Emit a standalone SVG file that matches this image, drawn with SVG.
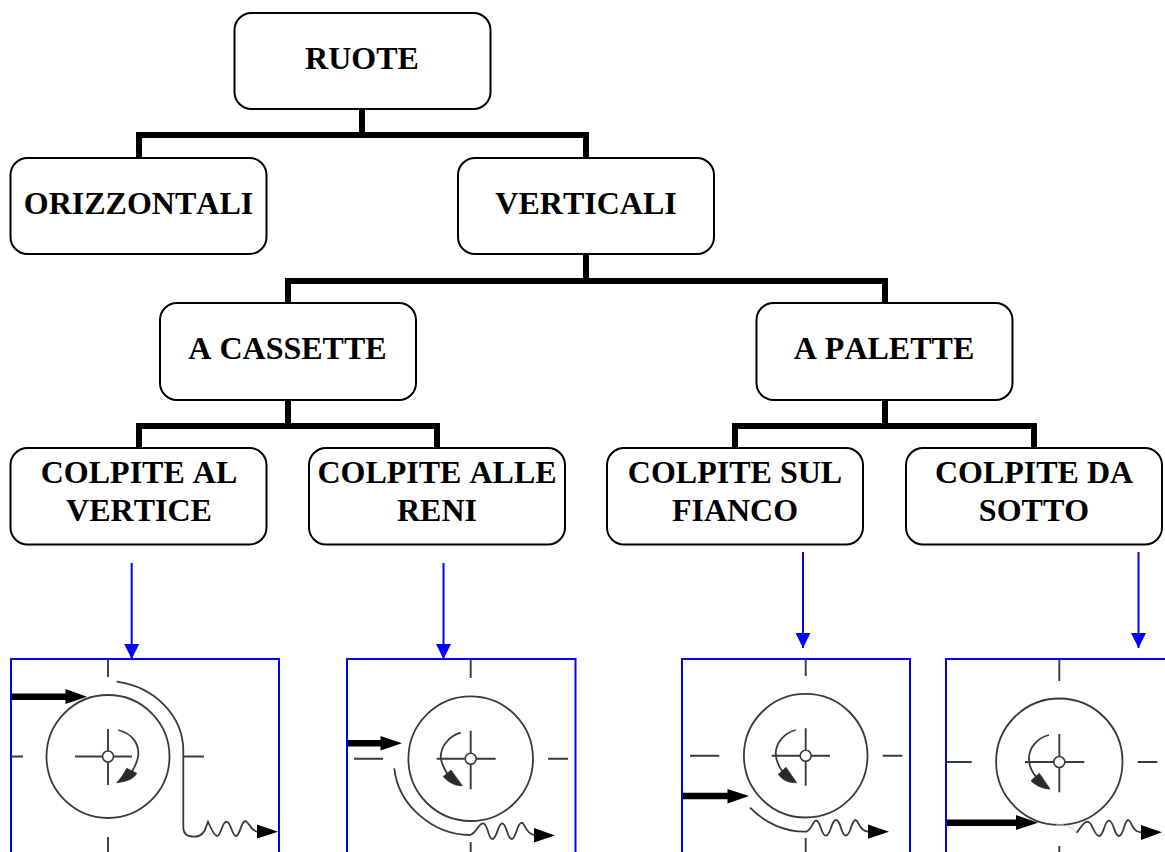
<svg xmlns="http://www.w3.org/2000/svg" width="1165" height="852" viewBox="0 0 1165 852">
<style>
.box{fill:#fff;stroke:#000;stroke-width:2}
.t{font-family:"Liberation Serif","Times New Roman",serif;font-weight:700;font-size:32px;font-kerning:none;text-anchor:middle;fill:#000}
.conn{fill:none;stroke:#000;stroke-width:6}
.blue{fill:none;stroke:#00f;stroke-width:2}
.frame{fill:none;stroke:#00f;stroke-width:2}
.thin{fill:none;stroke:#3a3a3a;stroke-width:1.8}
.tick{fill:none;stroke:#3a3a3a;stroke-width:1.9}
.hub{fill:#fff;stroke:#3a3a3a;stroke-width:1.6}
.thick{fill:none;stroke:#000;stroke-width:6.500}
.blk{fill:#000}
.dark{fill:#2a2a2a;stroke:#333;stroke-width:.8}
</style>
<defs>
<marker id="blueHead" markerUnits="userSpaceOnUse" markerWidth="16" markerHeight="16" refX="15" refY="8" orient="auto"><path d="M0 .5L15 8L0 15.500z" fill="#00f"/></marker>
</defs>
<rect width="1165" height="852" fill="#fff"/>
<g id="connectors">
<path class="conn" d="M362 109V135M139 158V135H586V158"/>
<path class="conn" d="M586 254V281M288 303V281H885V303"/>
<path class="conn" d="M288 400V426M139 448V426H437V448"/>
<path class="conn" d="M885 400V426M735 448V426H1034V448"/>
<path class="blue" marker-end="url(#blueHead)" d="M131.700 563V659"/>
<path class="blue" marker-end="url(#blueHead)" d="M443.500 563V659"/>
<path class="blue" marker-end="url(#blueHead)" d="M803 552V648"/>
<path class="blue" marker-end="url(#blueHead)" d="M1138.500 552V648"/>
</g>
<g id="node-ruote"><rect class="box" x="234.500" y="13" width="256" height="96" rx="17"/><text class="t" x="362" y="69">RUOTE</text></g>
<g id="node-orizzontali"><rect class="box" x="10.500" y="158" width="256" height="96" rx="17"/><text class="t" x="138.500" y="214">ORIZZONTALI</text></g>
<g id="node-verticali"><rect class="box" x="458" y="158" width="256" height="96" rx="17"/><text class="t" x="586" y="214">VERTICALI</text></g>
<g id="node-cassette"><rect class="box" x="160" y="303" width="256" height="97" rx="17"/><text class="t" x="287.500" y="359">A CASSETTE</text></g>
<g id="node-palette"><rect class="box" x="756.500" y="303" width="256" height="97" rx="17"/><text class="t" x="884" y="359">A PALETTE</text></g>
<g id="node-vertice"><rect class="box" x="10.500" y="448" width="256" height="96.500" rx="17"/><text class="t" x="139" y="483">COLPITE AL</text><text class="t" x="139" y="521">VERTICE</text></g>
<g id="node-reni"><rect class="box" x="309" y="448" width="256" height="96.500" rx="17"/><text class="t" x="437" y="483">COLPITE ALLE</text><text class="t" x="437" y="521">RENI</text></g>
<g id="node-fianco"><rect class="box" x="607" y="448" width="256" height="96.500" rx="17"/><text class="t" x="735" y="483">COLPITE SUL</text><text class="t" x="735" y="521">FIANCO</text></g>
<g id="node-sotto"><rect class="box" x="906" y="448" width="256" height="96.500" rx="17"/><text class="t" x="1034" y="483">COLPITE DA</text><text class="t" x="1034" y="521">SOTTO</text></g>
<g id="panel-1">
<path class="tick" d="M108 660V677M108 837V852M11 756.500H23M183 756.500H204M75 756.500H132M108 729V785"/>
<circle class="thin" cx="108" cy="756.500" r="61.500"/><circle class="hub" cx="108" cy="756.500" r="5.500"/>
<path class="thin" d="M118.300 730C133 734 139 744 138.300 755C137.500 763 134 768 131.700 772"/>
<path class="dark" d="M126.700 768.300L136.700 773.300C134 778 130 781 116.700 782.700C121 778 124 774 126.700 768.300z"/>
<path class="thin" d="M116.700 681.700C155 687 183 716 183.300 750V828C183.500 834 188 836.700 194 836.700C201 836.700 205 832 206 827L208 821.700C210 826 214 836 217 836C221 836 222 822 226.500 821.700C231 822 232 836 236 836C240 836 241 821 245.500 821C249 822 250 830 257 831.700"/>
<path class="thick" d="M11 696.700H67"/><path class="blk" d="M65.500 689L87 696.700L65.500 704z"/>
<path class="blk" d="M257 824.500L278 831.700L257 838.500z"/>
<rect class="frame" x="11" y="659" width="268" height="210"/>
</g>
<g id="panel-2">
<path class="tick" d="M470.700 660V678M470.700 842V852M354 758.700H383M548 758.700H568M436.700 758.700H495.700M470.700 730.700V789.300"/>
<circle class="thin" cx="470.700" cy="758.700" r="62.300"/><circle class="hub" cx="470.700" cy="758.700" r="5.500"/>
<path class="thin" d="M460.700 732.700C449 736 441 746 440.700 757C441 764 445 770 448 775"/>
<path class="dark" d="M451 770L462.300 785.700C456 786 449 783 443.300 776.700z"/>
<path class="thin" d="M394.300 768.300C398 805 433 835 470 835C477 833 478 823.300 483.300 823.300C488 824 488 839 492.300 839C497 839 498 823 502.300 823.300C507 824 507 839 511.700 839C516 839 517 823 521.700 822.700C525 823 525 833 534 835"/>
<path class="thick" d="M347 743.300H382"/><path class="blk" d="M380.500 736L402 743.300L380.500 750.500z"/>
<path class="blk" d="M534 828L555 835.500L534 842.500z"/>
<rect class="frame" x="347" y="659" width="228.500" height="210"/>
</g>
<g id="panel-3">
<path class="tick" d="M805.700 660V676M805.700 838V852M690 755.700H719.300M882.700 755.700H902.300M771.700 755.700H830M805.700 728.300V785.700"/>
<circle class="thin" cx="805.700" cy="755.700" r="61.800"/><circle class="hub" cx="805.700" cy="755.700" r="5.500"/>
<path class="thin" d="M795.700 730C784 733 776 743 775.700 753.300C776 761 779 767 782.700 771.700"/>
<path class="dark" d="M786 767.300L796.700 782.700C790 783 783 781 778.300 774.300z"/>
<path class="thin" d="M750 807.700C765 823 785 832 806 831.700C812 830 812 821.700 816 820.500C821 821 821 835.700 826 835.700C831 835.700 831 820 836 820C841 820 841 835.700 845.700 835.700C851 835.700 851 820 855.700 820C859 821 859 831 868 831.700"/>
<path class="thick" d="M683 796H729"/><path class="blk" d="M727.500 789L749 796L727.500 803.500z"/>
<path class="blk" d="M868 824.500L889 831.700L868 838.700z"/>
<rect class="frame" x="682" y="659" width="228" height="210"/>
</g>
<g id="panel-4">
<path class="tick" d="M1059.300 660V681M1059.300 846V852M947 762H971.700M1137.700 762H1157.300M1025 762H1084.300"/>
<path class="tick" d="M1059.300 734V792.300"/>
<circle class="thin" cx="1059.300" cy="761.700" r="63.200"/><circle class="hub" cx="1059.300" cy="762" r="5.500"/>
<path class="thin" d="M1049 735C1037 738 1029 748 1029 758.300C1029 766 1032 772 1036 776.700"/>
<path class="dark" d="M1039.300 773.300L1050 789C1044 789 1036 786 1031 780.700z"/>
<path fill="none" stroke="#ccc" stroke-width="1.200" d="M1056 825H1064M1068 826.500C1071 827 1074 830 1076.700 832.700"/>
<path class="thin" d="M1076.700 832.700C1080 829 1083 822 1087.300 821.700C1093 822 1094 836 1099 836C1104 836 1104 821 1109 820.700C1114 821 1114 836 1119 836C1124 836 1124 820 1128.300 820C1132 821 1132 832 1141 832.300"/>
<path class="thick" d="M946 822.700H1017"/><path class="blk" d="M1016 815L1038 822.700L1016 830z"/>
<path class="blk" d="M1141 825L1162 832.300L1141 840z"/>
<path class="frame" d="M946 869V659H1165"/>
</g>
</svg>
